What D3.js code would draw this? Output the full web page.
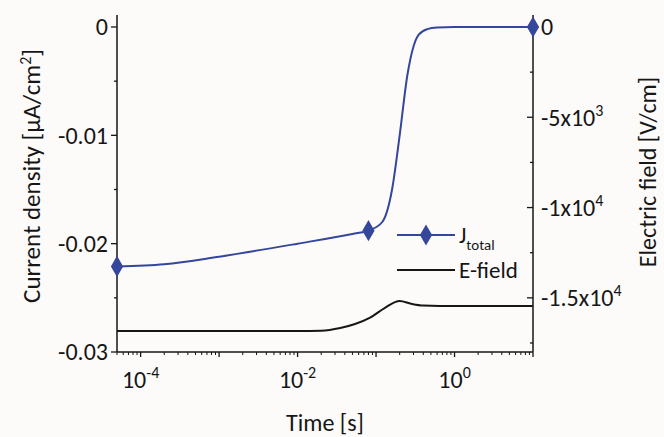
<!DOCTYPE html>
<html lang="en">
<head>
<meta charset="UTF-8">
<script src="https://d3js.org/d3.v7.min.js"></script>
<style>
  body { margin:0; background:#fcfbfa; }
  svg { font-family: Carlito, Lato, sans-serif; }
</style>
</head>
<body>
<svg id="chart" width="664" height="437"></svg>
<script>
// time [s]
const jTime = [5e-5, 2e-4, 1e-3, 1e-2, 0.05, 0.08, 0.12, 0.16, 0.2, 0.25, 0.3, 0.35, 0.45, 0.6, 1, 10];
// current density [uA/cm2]
const jValue = [-0.0221, -0.0219, -0.0212, -0.0200, -0.0191, -0.0188, -0.0180, -0.0150, -0.0100, -0.0045, -0.0018, -0.0007, -0.0002, -0.00005, 0, 0];
// points that carry a marker
const jMarked = [0, 5, 15];

const eTime = [5e-5, 1e-3, 1e-2, 0.02, 0.035, 0.054, 0.084, 0.13, 0.2, 0.28, 0.4, 0.65, 10];
const eValue = [-16840, -16840, -16840, -16820, -16670, -16450, -16100, -15550, -15180, -15330, -15430, -15450, -15450];

const leftTicks = [0, -0.01, -0.02, -0.03];
const leftMinor = [-0.005, -0.015, -0.025];
const rightTicks = [0, -5000, -10000, -15000];
const rightLabels = [["0", ""], ["-5x10", "3"], ["-1x10", "4"], ["-1.5x10", "4"]];
const rightMinor = [-2500, -7500, -12500, -17500];
const xMajor = [1e-4, 1e-3, 1e-2, 1e-1, 1, 10];
const xLabelled = [1e-4, 1e-2, 1];

const svg = d3.select("#chart");
const pLeft = 117, pRight = 533, pTop = 27, pBottom = 352, spineTop = 15;
const blue = "#34479b";
const ink = "#161616";
const tickSize = "24px", supSize = "16px";

let x = d3.scaleLog().domain([5e-5, 10]).range([pLeft, pRight]);
let yL = d3.scaleLinear().domain([-0.03, 0]).range([pBottom, pTop]);
let yR = d3.scaleLinear().domain([-18000, 0]).range([pBottom, pTop]);

// minor x ticks 2..9 each decade
let xMinor = [];
for (let e = -5; e <= 0; e++) {
  for (let m = 2; m <= 9; m++) {
    let v = m * Math.pow(10, e);
    if (v >= 5e-5 && v <= 10) xMinor.push(v);
  }
}

// spines
svg.append("line").attr("x1", pLeft).attr("x2", pLeft).attr("y1", spineTop).attr("y2", pBottom)
  .attr("stroke", ink).attr("stroke-width", 1.5);
svg.append("line").attr("x1", pRight).attr("x2", pRight).attr("y1", spineTop).attr("y2", pBottom)
  .attr("stroke", ink).attr("stroke-width", 1.5);
svg.append("line").attr("x1", pLeft).attr("x2", pRight).attr("y1", pBottom).attr("y2", pBottom)
  .attr("stroke", ink).attr("stroke-width", 1.5);

// bottom axis
let xAxis = svg.append("g").attr("transform", "translate(0," + pBottom + ")");
xAxis.selectAll(".maj").data(xMajor).enter().append("line")
  .attr("x1", d => x(d)).attr("x2", d => x(d)).attr("y1", 0).attr("y2", 5)
  .attr("stroke", ink).attr("stroke-width", 1.3);
xAxis.selectAll(".min").data(xMinor).enter().append("line")
  .attr("x1", d => x(d)).attr("x2", d => x(d)).attr("y1", 0).attr("y2", 3)
  .attr("stroke", ink).attr("stroke-width", 1);
let xl = xAxis.selectAll(".lab").data(xLabelled).enter().append("text")
  .attr("x", d => x(d)).attr("y", 36)
  .attr("text-anchor", "middle").style("font-size", tickSize).attr("fill", ink);
xl.append("tspan").text("10");
xl.append("tspan").attr("dy", -10).style("font-size", supSize).text(d => Math.round(Math.log10(d)));

// left axis
let yAxis = svg.append("g");
yAxis.selectAll(".maj").data(leftTicks).enter().append("line")
  .attr("x1", pLeft - 6).attr("x2", pLeft).attr("y1", d => yL(d)).attr("y2", d => yL(d))
  .attr("stroke", ink).attr("stroke-width", 1.3);
yAxis.selectAll(".min").data(leftMinor).enter().append("line")
  .attr("x1", pLeft - 3).attr("x2", pLeft).attr("y1", d => yL(d)).attr("y2", d => yL(d))
  .attr("stroke", ink).attr("stroke-width", 1.3);
yAxis.selectAll("text").data(leftTicks).enter().append("text")
  .attr("x", pLeft - 9).attr("y", d => yL(d)).attr("dy", "0.35em")
  .attr("text-anchor", "end").style("font-size", tickSize).attr("fill", ink)
  .text(d => d === 0 ? "0" : d3.format(".2f")(d).replace("\u2212", "-"));

// right axis
let rAxis = svg.append("g");
rAxis.selectAll(".maj").data(rightTicks).enter().append("line")
  .attr("x1", pRight - 6).attr("x2", pRight).attr("y1", d => yR(d)).attr("y2", d => yR(d))
  .attr("stroke", ink).attr("stroke-width", 1.3);
rAxis.selectAll(".min").data(rightMinor).enter().append("line")
  .attr("x1", pRight - 3).attr("x2", pRight).attr("y1", d => yR(d)).attr("y2", d => yR(d))
  .attr("stroke", ink).attr("stroke-width", 1.3);
let rl = rAxis.selectAll("text").data(rightTicks).enter().append("text")
  .attr("x", pRight + 8).attr("y", d => yR(d)).attr("dy", "0.35em")
  .style("font-size", tickSize).attr("fill", ink);
rl.append("tspan").text((d, i) => rightLabels[i][0]);
rl.append("tspan").attr("dy", -10).style("font-size", supSize).text((d, i) => rightLabels[i][1]);

// axis titles
let lt = svg.append("text")
  .attr("transform", "translate(40,176) rotate(-90)")
  .attr("text-anchor", "middle").style("font-size", "25px").attr("fill", ink);
lt.append("tspan").text("Current density [\u03bcA/cm");
lt.append("tspan").attr("dy", -9).style("font-size", "16px").text("2");
lt.append("tspan").attr("dy", 9).text("]");

svg.append("text")
  .attr("transform", "translate(656,172) rotate(-90)")
  .attr("text-anchor", "middle").style("font-size", "24px").attr("fill", ink)
  .text("Electric field [V/cm]");

svg.append("text")
  .attr("x", (pLeft + pRight) / 2).attr("y", 431).attr("text-anchor", "middle")
  .style("font-size", "24px").attr("fill", ink)
  .text("Time [s]");

// E-field line
let eData = eTime.map((t, i) => [t, eValue[i]]);
svg.append("path").datum(eData)
  .attr("fill", "none").attr("stroke", ink).attr("stroke-width", 2)
  .attr("d", d3.line().x(d => x(d[0])).y(d => yR(d[1])).curve(d3.curveMonotoneX));

// J line
let jData = jTime.map((t, i) => [t, jValue[i]]);
svg.append("path").datum(jData)
  .attr("fill", "none").attr("stroke", blue).attr("stroke-width", 2)
  .attr("d", d3.line().x(d => x(d[0])).y(d => yL(d[1])).curve(d3.curveMonotoneX));

let diamond = d3.symbol().type(d3.symbolDiamond).size(130);
svg.selectAll(".mk").data(jMarked.map(i => jData[i])).enter().append("path")
  .attr("d", diamond).attr("fill", blue)
  .attr("transform", d => "translate(" + x(d[0]) + "," + yL(d[1]) + ")");

// legend
let leg = svg.append("g").attr("transform", "translate(397,235)");
leg.append("line").attr("x1", 0).attr("x2", 58).attr("stroke", blue).attr("stroke-width", 2);
leg.append("path").attr("d", diamond).attr("fill", blue).attr("transform", "translate(29,0)");
let lj = leg.append("text").attr("x", 62).attr("y", 0).attr("dy", "0.35em")
  .style("font-size", "23px").attr("fill", ink);
lj.append("tspan").text("J");
lj.append("tspan").attr("dy", 7).style("font-size", "15px").text("total");
leg.append("line").attr("x1", 0).attr("x2", 58).attr("y1", 35).attr("y2", 35)
  .attr("stroke", ink).attr("stroke-width", 2);
leg.append("text").attr("x", 62).attr("y", 35).attr("dy", "0.35em")
  .style("font-size", "23px").attr("fill", ink).text("E-field");
</script>
</body>
</html>
